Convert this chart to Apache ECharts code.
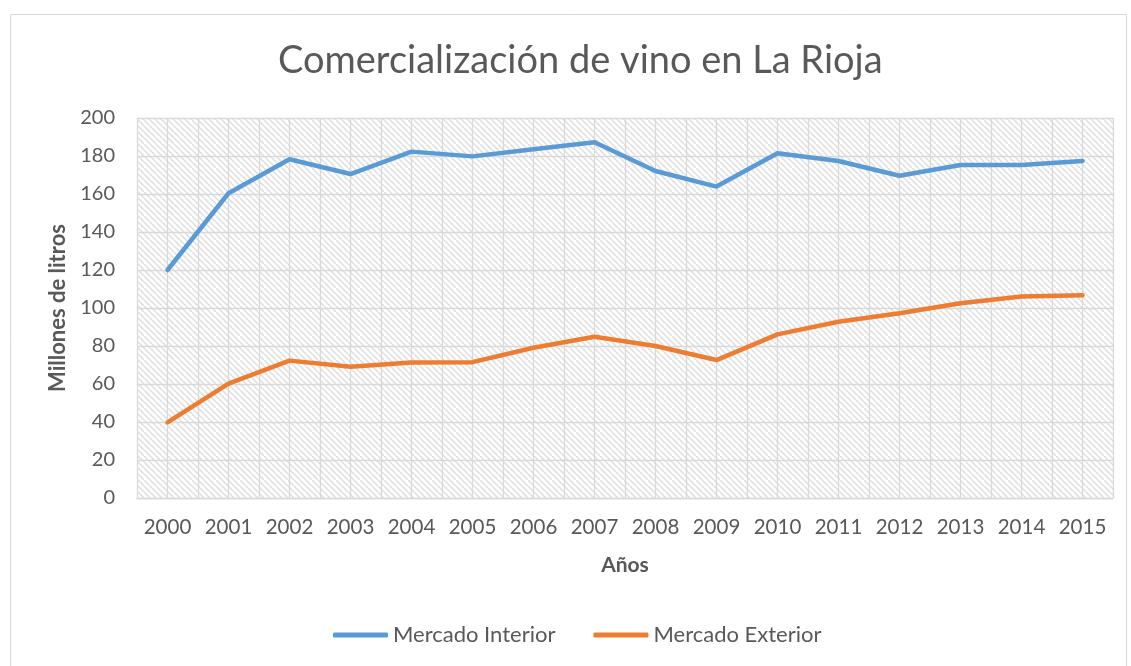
<!DOCTYPE html>
<html>
<head>
<meta charset="utf-8">
<script src="https://cdn.jsdelivr.net/npm/echarts@6/dist/echarts.min.js"></script>
<style>
  html, body { margin: 0; padding: 0; background: #fff; }
  #chart { width: 1131px; height: 666px; }
</style>
</head>
<body>
<div id="chart"></div>
<script>
var years = ['2000', '2001', '2002', '2003', '2004', '2005', '2006', '2007',
             '2008', '2009', '2010', '2011', '2012', '2013', '2014', '2015'];
var mercadoInterior = [120, 160.4, 178.3, 170.5, 182.3, 179.8, 183.6, 187.2,
                       172.1, 163.9, 181.4, 177.4, 169.6, 175.3, 175.3, 177.4];
var mercadoExterior = [39.8, 60.2, 72.3, 69.1, 71.3, 71.5, 79.1, 84.9,
                       80.0, 72.6, 86.1, 92.8, 97.2, 102.5, 106.0, 106.7];

// half-band ticks for the extra vertical gridlines (2 per year + 1)
var halfTicks = [];
for (var i = 0; i <= years.length * 2; i++) halfTicks.push('');

// hatched background of the plot area
var tile = document.createElement('canvas');
tile.width = 6;
tile.height = 6;
var ctx = tile.getContext('2d');
ctx.fillStyle = '#ffffff';
ctx.fillRect(0, 0, 6, 6);
ctx.strokeStyle = '#dedede';
ctx.lineWidth = 1.5;
[-6, 0, 6].forEach(function (x0) {
  ctx.beginPath();
  ctx.moveTo(x0, 0);
  ctx.lineTo(x0 + 6, 6);
  ctx.stroke();
});

var font = 'Lato, "Open Sans", sans-serif';
var gray = '#595959';
var gridColor = '#d9d9d9';

var chart = echarts.init(document.getElementById('chart'));
chart.setOption({
  backgroundColor: '#fff',
  textStyle: { fontFamily: font },
  graphic: [{
    type: 'rect',
    left: 8, top: 12,
    shape: { width: 1116, height: 670 },
    style: { fill: 'none', stroke: '#d9d9d9', lineWidth: 1 },
    silent: true
  }],
  title: {
    text: 'Comercialización de vino en La Rioja',
    left: 273,
    top: 37,
    textStyle: { fontFamily: font, fontSize: 38, fontWeight: 'normal', color: gray }
  },
  legend: {
    bottom: 15,
    left: 328,
    icon: 'roundRect',
    itemWidth: 55,
    itemHeight: 5,
    itemGap: 38,
    textStyle: { fontFamily: font, fontSize: 22, color: gray },
    data: ['Mercado Interior', 'Mercado Exterior']
  },
  grid: {
    left: 137, right: 18, top: 118, bottom: 168,
    show: true,
    borderWidth: 0,
    backgroundColor: { image: tile, repeat: 'repeat' }
  },
  xAxis: [{
    type: 'category',
    data: years,
    boundaryGap: true,
    name: 'Años',
    nameLocation: 'middle',
    nameGap: 57,
    nameTextStyle: { fontFamily: font, fontSize: 21, fontWeight: 'bold', color: gray },
    axisLine: { show: true, lineStyle: { color: gridColor, width: 1.3 } },
    axisTick: { show: false },
    axisLabel: { interval: 0, fontFamily: font, fontSize: 20.5, color: gray, margin: 19 },
    splitLine: { show: false }
  }, {
    type: 'category',
    data: halfTicks,
    boundaryGap: false,
    position: 'bottom',
    axisLine: { show: false },
    axisTick: { show: false },
    axisLabel: { show: false },
    splitLine: { show: true, interval: 0, lineStyle: { color: gridColor, width: 1.3 } }
  }],
  yAxis: {
    type: 'value',
    min: 0,
    max: 200,
    interval: 20,
    name: 'Millones de litros',
    nameLocation: 'middle',
    nameRotate: 90,
    nameGap: 68,
    nameTextStyle: { fontFamily: font, fontSize: 22, fontWeight: 'bold', color: gray },
    axisLine: { show: false },
    axisTick: { show: false },
    axisLabel: { fontFamily: font, fontSize: 20, color: gray, margin: 22 },
    splitLine: { show: true, lineStyle: { color: gridColor, width: 1.3 } }
  },
  series: [{
    name: 'Mercado Interior',
    type: 'line',
    data: mercadoInterior,
    symbol: 'none',
    lineStyle: { color: '#5B9BD5', width: 4.5, join: 'round', cap: 'round' },
    itemStyle: { color: '#5B9BD5' }
  }, {
    name: 'Mercado Exterior',
    type: 'line',
    data: mercadoExterior,
    symbol: 'none',
    lineStyle: { color: '#ED7D31', width: 4.5, join: 'round', cap: 'round' },
    itemStyle: { color: '#ED7D31' }
  }]
});
</script>
</body>
</html>
